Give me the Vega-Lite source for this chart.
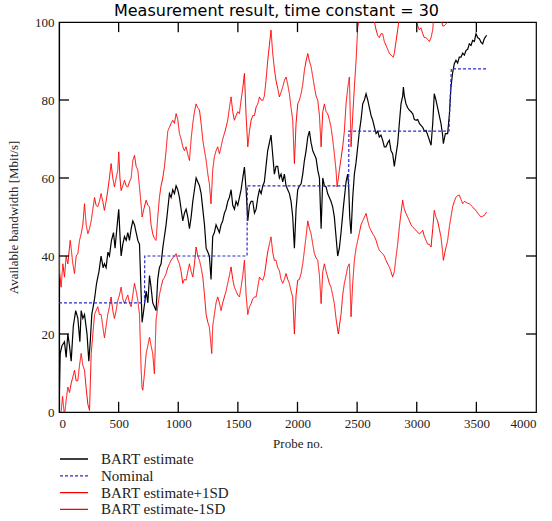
{
  "$schema": "https://vega.github.io/schema/vega-lite/v6.json",
  "width": 477,
  "height": 390,
  "autosize": {"type": "none"},
  "padding": {"left": 59, "top": 22, "right": 16, "bottom": 109},
  "background": "white",
  "title": {"text": "Measurement result, time constant = 30", "font": "DejaVu Sans", "fontSize": 16, "fontWeight": "normal", "anchor": "middle", "dx": -21, "offset": -3, "color": "#000"},
  "config": {
    "view": {"stroke": "#000", "strokeWidth": 1.2},
    "axis": {"grid": false, "ticks": false, "domainColor": "#000", "domainWidth": 1.2, "labelFont": "Liberation Serif", "labelFontSize": 13, "labelColor": "#222", "titleFont": "Liberation Serif", "titleFontSize": 13, "titleFontWeight": "normal", "titleColor": "#222"},
    "legend": {"orient": "none", "legendX": 7, "legendY": 429, "direction": "vertical", "symbolType": "M-2,0H2", "symbolSize": 196, "symbolStrokeWidth": 1.3, "symbolFillColor": "transparent", "labelFont": "Liberation Serif", "labelFontSize": 15, "labelColor": "#222", "labelOffset": 19, "rowPadding": 0.8, "title": null}
  },
  "datasets": {
    "xticks": [{"probe":500},{"probe":1000},{"probe":1500},{"probe":2000},{"probe":2500},{"probe":3000},{"probe":3500}],
    "yticks": [{"bw":20},{"bw":40},{"bw":60},{"bw":80}],
    "upper": [
      {"probe":0,"bw":80},{"probe":4,"bw":36},{"probe":18,"bw":32},{"probe":32,"bw":38},{"probe":46,"bw":34.6},{"probe":60,"bw":40},{"probe":74,"bw":38},{"probe":94,"bw":44},{"probe":102,"bw":42},{"probe":116,"bw":38},{"probe":130,"bw":35.5},{"probe":144,"bw":40},{"probe":158,"bw":40.6},{"probe":172,"bw":44},{"probe":186,"bw":45.7},{"probe":200,"bw":48},{"probe":214,"bw":53.4},{"probe":228,"bw":48},{"probe":242,"bw":45.7},{"probe":256,"bw":47},{"probe":270,"bw":49},{"probe":284,"bw":52},{"probe":298,"bw":55},{"probe":311,"bw":53},{"probe":325,"bw":52.6},{"probe":339,"bw":54},{"probe":353,"bw":56},{"probe":367,"bw":54},{"probe":381,"bw":51.7},{"probe":395,"bw":54},{"probe":409,"bw":56.8},{"probe":423,"bw":60},{"probe":437,"bw":63.7},{"probe":451,"bw":60},{"probe":465,"bw":57.7},{"probe":479,"bw":60},{"probe":493,"bw":62},{"probe":501,"bw":66.7},{"probe":511,"bw":60},{"probe":521,"bw":56.8},{"probe":535,"bw":58},{"probe":549,"bw":59.4},{"probe":563,"bw":58},{"probe":577,"bw":57.7},{"probe":591,"bw":59},{"probe":605,"bw":60},{"probe":619,"bw":64.5},{"probe":633,"bw":65.8},{"probe":647,"bw":63},{"probe":661,"bw":62},{"probe":675,"bw":57.7},{"probe":689,"bw":53},{"probe":697,"bw":50},{"probe":711,"bw":52},{"probe":731,"bw":54.3},{"probe":745,"bw":53},{"probe":759,"bw":52.6},{"probe":772,"bw":48},{"probe":786,"bw":45.7},{"probe":800,"bw":44.5},{"probe":814,"bw":44},{"probe":828,"bw":50},{"probe":842,"bw":55},{"probe":856,"bw":58},{"probe":870,"bw":60},{"probe":884,"bw":62.8},{"probe":898,"bw":67},{"probe":912,"bw":72},{"probe":926,"bw":73},{"probe":940,"bw":74},{"probe":954,"bw":74.8},{"probe":968,"bw":74},{"probe":982,"bw":76.5},{"probe":996,"bw":75},{"probe":1010,"bw":71.4},{"probe":1024,"bw":70},{"probe":1038,"bw":68},{"probe":1052,"bw":67},{"probe":1066,"bw":68},{"probe":1080,"bw":66},{"probe":1094,"bw":64.5},{"probe":1108,"bw":70},{"probe":1122,"bw":74},{"probe":1136,"bw":77},{"probe":1150,"bw":79},{"probe":1164,"bw":78},{"probe":1178,"bw":77.4},{"probe":1192,"bw":74},{"probe":1206,"bw":69.7},{"probe":1220,"bw":67},{"probe":1234,"bw":64.5},{"probe":1248,"bw":61},{"probe":1261,"bw":58.5},{"probe":1275,"bw":53.4},{"probe":1289,"bw":62},{"probe":1303,"bw":65.4},{"probe":1317,"bw":67},{"probe":1331,"bw":68},{"probe":1345,"bw":66.2},{"probe":1359,"bw":68},{"probe":1373,"bw":70},{"probe":1387,"bw":71.4},{"probe":1401,"bw":73},{"probe":1415,"bw":74.8},{"probe":1429,"bw":78},{"probe":1443,"bw":80.8},{"probe":1457,"bw":77},{"probe":1471,"bw":74.8},{"probe":1485,"bw":76},{"probe":1499,"bw":77},{"probe":1513,"bw":76.5},{"probe":1527,"bw":80},{"probe":1541,"bw":83},{"probe":1555,"bw":86.8},{"probe":1569,"bw":76},{"probe":1583,"bw":68},{"probe":1597,"bw":72},{"probe":1611,"bw":74.8},{"probe":1625,"bw":76},{"probe":1639,"bw":76},{"probe":1653,"bw":78.2},{"probe":1667,"bw":79},{"probe":1681,"bw":80.8},{"probe":1695,"bw":80},{"probe":1709,"bw":79.9},{"probe":1722,"bw":81},{"probe":1736,"bw":85},{"probe":1750,"bw":90},{"probe":1764,"bw":94},{"probe":1778,"bw":97.9},{"probe":1792,"bw":92},{"probe":1806,"bw":88},{"probe":1820,"bw":85},{"probe":1834,"bw":83},{"probe":1848,"bw":80.8},{"probe":1862,"bw":82},{"probe":1876,"bw":83.3},{"probe":1890,"bw":85},{"probe":1904,"bw":85.9},{"probe":1918,"bw":84},{"probe":1932,"bw":81.6},{"probe":1946,"bw":78},{"probe":1960,"bw":74.8},{"probe":1974,"bw":63.7},{"probe":1988,"bw":74},{"probe":2002,"bw":79},{"probe":2016,"bw":80},{"probe":2030,"bw":81.6},{"probe":2044,"bw":84},{"probe":2058,"bw":87.6},{"probe":2072,"bw":90},{"probe":2086,"bw":91.9},{"probe":2100,"bw":90},{"probe":2114,"bw":88.5},{"probe":2128,"bw":86},{"probe":2142,"bw":83.3},{"probe":2156,"bw":81},{"probe":2170,"bw":79.9},{"probe":2184,"bw":76},{"probe":2198,"bw":68},{"probe":2212,"bw":77},{"probe":2226,"bw":79},{"probe":2240,"bw":77},{"probe":2253,"bw":76.5},{"probe":2267,"bw":75},{"probe":2281,"bw":73},{"probe":2295,"bw":70},{"probe":2309,"bw":66.2},{"probe":2323,"bw":62},{"probe":2332,"bw":57.7},{"probe":2343,"bw":60},{"probe":2351,"bw":62},{"probe":2365,"bw":65},{"probe":2379,"bw":68},{"probe":2393,"bw":72},{"probe":2407,"bw":79},{"probe":2421,"bw":83},{"probe":2435,"bw":85.9},{"probe":2449,"bw":68},{"probe":2463,"bw":76},{"probe":2477,"bw":83.3},{"probe":2491,"bw":90},{"probe":2505,"bw":98.7},{"probe":2524,"bw":101},{"probe":2547,"bw":103},{"probe":2575,"bw":105},{"probe":2603,"bw":104},{"probe":2631,"bw":102},{"probe":2659,"bw":98},{"probe":2673,"bw":96.5},{"probe":2686,"bw":96},{"probe":2700,"bw":97},{"probe":2714,"bw":97},{"probe":2728,"bw":95},{"probe":2742,"bw":94},{"probe":2756,"bw":93},{"probe":2770,"bw":92},{"probe":2784,"bw":91.5},{"probe":2804,"bw":91},{"probe":2812,"bw":92},{"probe":2826,"bw":95},{"probe":2840,"bw":98},{"probe":2854,"bw":101},{"probe":2882,"bw":104},{"probe":2910,"bw":104},{"probe":2938,"bw":103},{"probe":2966,"bw":102},{"probe":2994,"bw":100.5},{"probe":3008,"bw":99},{"probe":3022,"bw":98},{"probe":3036,"bw":98.5},{"probe":3050,"bw":97},{"probe":3064,"bw":96},{"probe":3078,"bw":96},{"probe":3092,"bw":95.5},{"probe":3106,"bw":95},{"probe":3120,"bw":96},{"probe":3134,"bw":98},{"probe":3147,"bw":103},{"probe":3175,"bw":104},{"probe":3203,"bw":101},{"probe":3217,"bw":99},{"probe":3230,"bw":99},{"probe":3245,"bw":99.5},{"probe":3259,"bw":100},{"probe":3273,"bw":104},{"probe":3287,"bw":112},{"probe":3301,"bw":118},{"probe":3329,"bw":124},{"probe":3357,"bw":127},{"probe":3385,"bw":130},{"probe":3413,"bw":132},{"probe":3441,"bw":135},{"probe":3469,"bw":138},{"probe":3497,"bw":140},{"probe":3525,"bw":140},{"probe":3553,"bw":139},{"probe":3586,"bw":141}
    ],
    "lower": [
      {"probe":0,"bw":-8},{"probe":8,"bw":-2},{"probe":18,"bw":0},{"probe":30,"bw":4},{"probe":46,"bw":-1},{"probe":60,"bw":3},{"probe":74,"bw":6.4},{"probe":88,"bw":5},{"probe":102,"bw":7.3},{"probe":116,"bw":9},{"probe":130,"bw":10.7},{"probe":144,"bw":8},{"probe":158,"bw":8},{"probe":172,"bw":12},{"probe":186,"bw":15},{"probe":200,"bw":12},{"probe":214,"bw":10.7},{"probe":228,"bw":6},{"probe":242,"bw":2},{"probe":256,"bw":0.4},{"probe":270,"bw":15},{"probe":284,"bw":20},{"probe":298,"bw":25},{"probe":311,"bw":26},{"probe":325,"bw":27},{"probe":339,"bw":25},{"probe":353,"bw":25},{"probe":367,"bw":22},{"probe":381,"bw":19},{"probe":395,"bw":22},{"probe":409,"bw":25},{"probe":423,"bw":27},{"probe":437,"bw":29.5},{"probe":451,"bw":26},{"probe":465,"bw":24},{"probe":479,"bw":26},{"probe":493,"bw":28.6},{"probe":507,"bw":30},{"probe":521,"bw":32},{"probe":535,"bw":29},{"probe":549,"bw":27.8},{"probe":563,"bw":29},{"probe":577,"bw":30},{"probe":591,"bw":28},{"probe":605,"bw":27},{"probe":619,"bw":30},{"probe":633,"bw":33},{"probe":647,"bw":31},{"probe":661,"bw":28.6},{"probe":675,"bw":25},{"probe":689,"bw":10.7},{"probe":697,"bw":6},{"probe":703,"bw":5.6},{"probe":717,"bw":10},{"probe":731,"bw":15},{"probe":745,"bw":17},{"probe":759,"bw":19.2},{"probe":772,"bw":17},{"probe":786,"bw":15},{"probe":800,"bw":9.8},{"probe":814,"bw":23.5},{"probe":828,"bw":27},{"probe":842,"bw":30},{"probe":856,"bw":32},{"probe":870,"bw":33.8},{"probe":884,"bw":34.5},{"probe":898,"bw":35.5},{"probe":912,"bw":37},{"probe":926,"bw":38},{"probe":940,"bw":38.9},{"probe":954,"bw":39.5},{"probe":968,"bw":40},{"probe":982,"bw":40.6},{"probe":996,"bw":39},{"probe":1010,"bw":38},{"probe":1024,"bw":36},{"probe":1038,"bw":33},{"probe":1052,"bw":34},{"probe":1066,"bw":33.8},{"probe":1080,"bw":36},{"probe":1094,"bw":38},{"probe":1108,"bw":36},{"probe":1122,"bw":34.6},{"probe":1136,"bw":38},{"probe":1150,"bw":42.3},{"probe":1164,"bw":40},{"probe":1178,"bw":38.9},{"probe":1192,"bw":37},{"probe":1206,"bw":34.6},{"probe":1220,"bw":30},{"probe":1234,"bw":25},{"probe":1248,"bw":23},{"probe":1261,"bw":21.8},{"probe":1275,"bw":17},{"probe":1281,"bw":15},{"probe":1289,"bw":22},{"probe":1303,"bw":25},{"probe":1317,"bw":28},{"probe":1331,"bw":29.5},{"probe":1345,"bw":28},{"probe":1359,"bw":26},{"probe":1373,"bw":28},{"probe":1387,"bw":29.5},{"probe":1401,"bw":31},{"probe":1415,"bw":33},{"probe":1429,"bw":35},{"probe":1443,"bw":37.2},{"probe":1457,"bw":34},{"probe":1471,"bw":32},{"probe":1485,"bw":31},{"probe":1499,"bw":30},{"probe":1513,"bw":29.5},{"probe":1527,"bw":32},{"probe":1541,"bw":35},{"probe":1555,"bw":38.9},{"probe":1569,"bw":30},{"probe":1583,"bw":25},{"probe":1597,"bw":27},{"probe":1611,"bw":27.8},{"probe":1625,"bw":29},{"probe":1639,"bw":29.5},{"probe":1653,"bw":29.5},{"probe":1667,"bw":32},{"probe":1681,"bw":34.6},{"probe":1695,"bw":34},{"probe":1709,"bw":33.8},{"probe":1722,"bw":35},{"probe":1736,"bw":38},{"probe":1750,"bw":41},{"probe":1764,"bw":43},{"probe":1778,"bw":44.9},{"probe":1792,"bw":41},{"probe":1806,"bw":38.9},{"probe":1820,"bw":38.9},{"probe":1834,"bw":37},{"probe":1848,"bw":36.3},{"probe":1862,"bw":34},{"probe":1876,"bw":33},{"probe":1890,"bw":34},{"probe":1904,"bw":35.5},{"probe":1918,"bw":34},{"probe":1932,"bw":33},{"probe":1946,"bw":31},{"probe":1960,"bw":29.5},{"probe":1974,"bw":20},{"probe":1988,"bw":30},{"probe":2002,"bw":33.8},{"probe":2016,"bw":34},{"probe":2030,"bw":35.5},{"probe":2044,"bw":38},{"probe":2058,"bw":41.5},{"probe":2072,"bw":45},{"probe":2086,"bw":49},{"probe":2100,"bw":47},{"probe":2114,"bw":45.7},{"probe":2128,"bw":43},{"probe":2142,"bw":40.6},{"probe":2156,"bw":39.5},{"probe":2170,"bw":38.9},{"probe":2184,"bw":35},{"probe":2198,"bw":27.8},{"probe":2212,"bw":36},{"probe":2226,"bw":38},{"probe":2240,"bw":36},{"probe":2253,"bw":34.6},{"probe":2267,"bw":33},{"probe":2281,"bw":32},{"probe":2295,"bw":30},{"probe":2309,"bw":27.8},{"probe":2323,"bw":24},{"probe":2337,"bw":21},{"probe":2343,"bw":20},{"probe":2351,"bw":22},{"probe":2365,"bw":25},{"probe":2379,"bw":30},{"probe":2393,"bw":33},{"probe":2407,"bw":35},{"probe":2421,"bw":37.2},{"probe":2435,"bw":38},{"probe":2449,"bw":24.4},{"probe":2463,"bw":33},{"probe":2477,"bw":38.9},{"probe":2491,"bw":42},{"probe":2505,"bw":44},{"probe":2519,"bw":46},{"probe":2533,"bw":48},{"probe":2547,"bw":49},{"probe":2561,"bw":50},{"probe":2575,"bw":50.9},{"probe":2589,"bw":49},{"probe":2603,"bw":47.4},{"probe":2617,"bw":46.5},{"probe":2631,"bw":45.7},{"probe":2645,"bw":45},{"probe":2659,"bw":44},{"probe":2673,"bw":42.5},{"probe":2686,"bw":41.5},{"probe":2700,"bw":41},{"probe":2714,"bw":40.6},{"probe":2728,"bw":40},{"probe":2742,"bw":38.9},{"probe":2756,"bw":38},{"probe":2770,"bw":37.2},{"probe":2784,"bw":36},{"probe":2798,"bw":34.6},{"probe":2812,"bw":36},{"probe":2826,"bw":39.7},{"probe":2840,"bw":43},{"probe":2854,"bw":47.4},{"probe":2868,"bw":51},{"probe":2882,"bw":54.3},{"probe":2896,"bw":52},{"probe":2910,"bw":50.9},{"probe":2924,"bw":50},{"probe":2938,"bw":49},{"probe":2952,"bw":48},{"probe":2966,"bw":47.4},{"probe":2980,"bw":47},{"probe":2994,"bw":46.6},{"probe":3008,"bw":46},{"probe":3022,"bw":45.7},{"probe":3036,"bw":46},{"probe":3050,"bw":46.6},{"probe":3064,"bw":45},{"probe":3078,"bw":44},{"probe":3092,"bw":43},{"probe":3106,"bw":43},{"probe":3120,"bw":42.3},{"probe":3134,"bw":47},{"probe":3147,"bw":51.7},{"probe":3161,"bw":50},{"probe":3175,"bw":49},{"probe":3189,"bw":47},{"probe":3203,"bw":44.9},{"probe":3217,"bw":41},{"probe":3223,"bw":38.9},{"probe":3240,"bw":41.5},{"probe":3259,"bw":44},{"probe":3273,"bw":47.4},{"probe":3287,"bw":50},{"probe":3301,"bw":52.6},{"probe":3315,"bw":54},{"probe":3329,"bw":55.1},{"probe":3343,"bw":55.5},{"probe":3357,"bw":55.6},{"probe":3371,"bw":54.5},{"probe":3385,"bw":53.4},{"probe":3399,"bw":54},{"probe":3413,"bw":53.8},{"probe":3427,"bw":53.5},{"probe":3441,"bw":53.4},{"probe":3455,"bw":53},{"probe":3469,"bw":52.6},{"probe":3483,"bw":52},{"probe":3497,"bw":51.7},{"probe":3511,"bw":51},{"probe":3525,"bw":50.5},{"probe":3539,"bw":50},{"probe":3553,"bw":50.2},{"probe":3566,"bw":50.4},{"probe":3586,"bw":51.3}
    ],
    "estimate": [
      {"probe":0,"bw":0},{"probe":10,"bw":15},{"probe":25,"bw":17},{"probe":46,"bw":18},{"probe":60,"bw":14},{"probe":74,"bw":20},{"probe":88,"bw":17},{"probe":102,"bw":13},{"probe":120,"bw":22},{"probe":140,"bw":26},{"probe":158,"bw":24},{"probe":175,"bw":18},{"probe":186,"bw":26},{"probe":200,"bw":24},{"probe":214,"bw":25},{"probe":235,"bw":20},{"probe":250,"bw":13},{"probe":262,"bw":18},{"probe":275,"bw":25},{"probe":298,"bw":29},{"probe":315,"bw":33},{"probe":335,"bw":36},{"probe":353,"bw":40},{"probe":370,"bw":37},{"probe":381,"bw":38},{"probe":395,"bw":37},{"probe":410,"bw":41},{"probe":423,"bw":40},{"probe":440,"bw":44},{"probe":457,"bw":46},{"probe":470,"bw":42},{"probe":485,"bw":47},{"probe":501,"bw":52},{"probe":512,"bw":45},{"probe":521,"bw":40},{"probe":535,"bw":43},{"probe":549,"bw":45},{"probe":563,"bw":44},{"probe":577,"bw":46},{"probe":591,"bw":44},{"probe":605,"bw":47},{"probe":619,"bw":49},{"probe":633,"bw":48},{"probe":647,"bw":46},{"probe":661,"bw":44},{"probe":675,"bw":43},{"probe":689,"bw":30},{"probe":697,"bw":23},{"probe":710,"bw":26},{"probe":731,"bw":31},{"probe":745,"bw":28},{"probe":759,"bw":35},{"probe":772,"bw":32},{"probe":786,"bw":28},{"probe":800,"bw":27},{"probe":814,"bw":26},{"probe":828,"bw":34},{"probe":842,"bw":37},{"probe":856,"bw":38},{"probe":870,"bw":42},{"probe":884,"bw":45},{"probe":898,"bw":48},{"probe":912,"bw":52},{"probe":926,"bw":56},{"probe":940,"bw":55},{"probe":954,"bw":57},{"probe":968,"bw":56},{"probe":982,"bw":58},{"probe":996,"bw":57},{"probe":1010,"bw":55},{"probe":1024,"bw":52},{"probe":1038,"bw":49},{"probe":1052,"bw":51},{"probe":1066,"bw":52},{"probe":1080,"bw":50},{"probe":1094,"bw":47},{"probe":1108,"bw":50},{"probe":1122,"bw":54},{"probe":1136,"bw":57},{"probe":1150,"bw":60},{"probe":1164,"bw":59},{"probe":1178,"bw":58},{"probe":1192,"bw":56},{"probe":1206,"bw":52},{"probe":1220,"bw":48},{"probe":1234,"bw":42},{"probe":1248,"bw":41},{"probe":1261,"bw":40},{"probe":1275,"bw":34},{"probe":1289,"bw":45},{"probe":1303,"bw":46},{"probe":1317,"bw":48},{"probe":1331,"bw":47},{"probe":1345,"bw":46},{"probe":1359,"bw":48},{"probe":1373,"bw":49},{"probe":1387,"bw":51},{"probe":1401,"bw":52},{"probe":1415,"bw":54},{"probe":1429,"bw":55},{"probe":1443,"bw":57},{"probe":1457,"bw":53},{"probe":1471,"bw":52},{"probe":1485,"bw":54},{"probe":1499,"bw":53},{"probe":1513,"bw":55},{"probe":1527,"bw":57},{"probe":1541,"bw":60},{"probe":1555,"bw":62.8},{"probe":1569,"bw":57},{"probe":1583,"bw":49},{"probe":1597,"bw":53},{"probe":1611,"bw":54},{"probe":1625,"bw":54},{"probe":1639,"bw":51},{"probe":1653,"bw":52},{"probe":1667,"bw":55},{"probe":1681,"bw":57},{"probe":1695,"bw":56},{"probe":1709,"bw":58},{"probe":1722,"bw":59},{"probe":1736,"bw":63},{"probe":1750,"bw":67},{"probe":1764,"bw":69},{"probe":1778,"bw":71},{"probe":1792,"bw":66},{"probe":1806,"bw":61},{"probe":1820,"bw":63},{"probe":1834,"bw":63},{"probe":1848,"bw":60},{"probe":1862,"bw":61},{"probe":1876,"bw":59},{"probe":1890,"bw":61},{"probe":1904,"bw":58},{"probe":1918,"bw":57},{"probe":1932,"bw":56},{"probe":1946,"bw":54},{"probe":1960,"bw":50},{"probe":1974,"bw":42},{"probe":1988,"bw":52},{"probe":2002,"bw":57},{"probe":2016,"bw":58},{"probe":2030,"bw":58.5},{"probe":2044,"bw":61},{"probe":2058,"bw":64.5},{"probe":2072,"bw":67},{"probe":2086,"bw":70.5},{"probe":2100,"bw":72},{"probe":2114,"bw":69},{"probe":2128,"bw":67},{"probe":2142,"bw":66},{"probe":2156,"bw":65},{"probe":2170,"bw":62},{"probe":2184,"bw":60},{"probe":2198,"bw":47},{"probe":2212,"bw":60},{"probe":2226,"bw":58},{"probe":2240,"bw":57.7},{"probe":2253,"bw":56},{"probe":2267,"bw":55},{"probe":2281,"bw":54},{"probe":2295,"bw":52.6},{"probe":2309,"bw":50},{"probe":2323,"bw":45},{"probe":2337,"bw":40},{"probe":2351,"bw":42},{"probe":2365,"bw":46},{"probe":2385,"bw":52.6},{"probe":2407,"bw":59},{"probe":2421,"bw":61},{"probe":2429,"bw":58},{"probe":2438,"bw":50},{"probe":2449,"bw":45.7},{"probe":2463,"bw":55},{"probe":2477,"bw":61},{"probe":2491,"bw":64},{"probe":2505,"bw":68},{"probe":2519,"bw":72},{"probe":2533,"bw":75},{"probe":2547,"bw":79},{"probe":2561,"bw":80},{"probe":2575,"bw":81.6},{"probe":2589,"bw":80},{"probe":2603,"bw":78},{"probe":2617,"bw":76},{"probe":2631,"bw":74.8},{"probe":2645,"bw":73},{"probe":2659,"bw":71.4},{"probe":2673,"bw":72},{"probe":2686,"bw":70.5},{"probe":2700,"bw":71},{"probe":2714,"bw":69.7},{"probe":2728,"bw":68},{"probe":2742,"bw":68},{"probe":2756,"bw":69},{"probe":2770,"bw":69.7},{"probe":2784,"bw":67},{"probe":2798,"bw":66.2},{"probe":2812,"bw":63},{"probe":2826,"bw":66},{"probe":2840,"bw":68.8},{"probe":2854,"bw":74},{"probe":2868,"bw":79},{"probe":2882,"bw":81},{"probe":2888,"bw":83.3},{"probe":2896,"bw":81},{"probe":2910,"bw":79},{"probe":2924,"bw":78},{"probe":2938,"bw":77.4},{"probe":2952,"bw":77},{"probe":2966,"bw":76.5},{"probe":2980,"bw":75},{"probe":2994,"bw":74.8},{"probe":3008,"bw":75},{"probe":3022,"bw":74},{"probe":3036,"bw":73.5},{"probe":3050,"bw":73},{"probe":3064,"bw":72},{"probe":3078,"bw":72.2},{"probe":3092,"bw":71},{"probe":3106,"bw":69.7},{"probe":3120,"bw":68.4},{"probe":3134,"bw":74},{"probe":3147,"bw":81.6},{"probe":3161,"bw":80},{"probe":3175,"bw":78},{"probe":3189,"bw":76},{"probe":3203,"bw":74},{"probe":3217,"bw":71},{"probe":3223,"bw":68.8},{"probe":3240,"bw":71.4},{"probe":3259,"bw":71.4},{"probe":3273,"bw":76},{"probe":3287,"bw":83.3},{"probe":3301,"bw":87},{"probe":3315,"bw":89.3},{"probe":3329,"bw":90.2},{"probe":3343,"bw":89.5},{"probe":3357,"bw":91},{"probe":3371,"bw":91},{"probe":3385,"bw":92},{"probe":3399,"bw":91.5},{"probe":3413,"bw":92.7},{"probe":3427,"bw":93},{"probe":3441,"bw":94.4},{"probe":3455,"bw":94},{"probe":3469,"bw":95.3},{"probe":3483,"bw":95},{"probe":3497,"bw":97},{"probe":3511,"bw":96},{"probe":3525,"bw":95.7},{"probe":3539,"bw":94.8},{"probe":3553,"bw":94.4},{"probe":3566,"bw":95.7},{"probe":3586,"bw":96.6}
    ],
    "nominal": [
      {"probe":0,"bw":28},{"probe":717,"bw":28},{"probe":719,"bw":40},{"probe":1577,"bw":40},{"probe":1579,"bw":58},{"probe":2429,"bw":58},{"probe":2431,"bw":72},{"probe":3270,"bw":72},{"probe":3290,"bw":88},{"probe":3586,"bw":88}
    ]
  },
  "layer": [
    {
      "data": {"name": "upper"},
      "mark": {"type": "line", "clip": true, "strokeWidth": 1},
      "encoding": {
        "x": {"field": "probe", "type": "quantitative", "scale": {"domain": [0, 4000], "nice": false}, "axis": {"orient": "bottom", "title": "Probe no.", "format": "d", "values": [0,500,1000,1500,2000,2500,3000,3500,4000], "labelPadding": 5, "titlePadding": 7}},
        "y": {"field": "bw", "type": "quantitative", "scale": {"domain": [0, 100], "nice": false}, "axis": {"orient": "left", "title": "Available bandwidth [Mbit/s]", "format": "d", "values": [0,20,40,60,80,100], "labelPadding": 5, "titlePadding": 14}},
        "color": {"datum": "BART estimate+1SD", "type": "nominal", "scale": {"domain": ["BART estimate", "Nominal", "BART estimate+1SD", "BART estimate-1SD"], "range": ["#000000", "#2b2bc8", "#ff0000", "#ff0000"]}},
        "strokeDash": {"datum": "BART estimate+1SD", "type": "nominal", "scale": {"domain": ["BART estimate", "Nominal", "BART estimate+1SD", "BART estimate-1SD"], "range": [[1, 0], [3, 2], [1, 0], [1, 0]]}}
      }
    },
    {
      "data": {"name": "lower"},
      "mark": {"type": "line", "clip": true, "strokeWidth": 1},
      "encoding": {
        "x": {"field": "probe", "type": "quantitative"},
        "y": {"field": "bw", "type": "quantitative"},
        "color": {"datum": "BART estimate-1SD", "type": "nominal"},
        "strokeDash": {"datum": "BART estimate-1SD", "type": "nominal"}
      }
    },
    {
      "data": {"name": "estimate"},
      "mark": {"type": "line", "clip": true, "strokeWidth": 1.2},
      "encoding": {
        "x": {"field": "probe", "type": "quantitative"},
        "y": {"field": "bw", "type": "quantitative"},
        "color": {"datum": "BART estimate", "type": "nominal"},
        "strokeDash": {"datum": "BART estimate", "type": "nominal"}
      }
    },
    {
      "data": {"name": "nominal"},
      "mark": {"type": "line", "clip": true, "strokeWidth": 1.2},
      "encoding": {
        "x": {"field": "probe", "type": "quantitative"},
        "y": {"field": "bw", "type": "quantitative"},
        "color": {"datum": "Nominal", "type": "nominal"},
        "strokeDash": {"datum": "Nominal", "type": "nominal"}
      }
    },
    {
      "data": {"name": "xticks"},
      "mark": {"type": "rule", "color": "#000", "strokeWidth": 1.3},
      "encoding": {
        "x": {"field": "probe", "type": "quantitative"},
        "y": {"datum": 0, "type": "quantitative"},
        "y2": {"datum": 2.6}
      }
    },
    {
      "data": {"name": "xticks"},
      "mark": {"type": "rule", "color": "#000", "strokeWidth": 1.3},
      "encoding": {
        "x": {"field": "probe", "type": "quantitative"},
        "y": {"datum": 100, "type": "quantitative"},
        "y2": {"datum": 97.4}
      }
    },
    {
      "data": {"name": "yticks"},
      "mark": {"type": "rule", "color": "#000", "strokeWidth": 1.3},
      "encoding": {
        "y": {"field": "bw", "type": "quantitative"},
        "x": {"datum": 0, "type": "quantitative"},
        "x2": {"datum": 84}
      }
    },
    {
      "data": {"name": "yticks"},
      "mark": {"type": "rule", "color": "#000", "strokeWidth": 1.3},
      "encoding": {
        "y": {"field": "bw", "type": "quantitative"},
        "x": {"datum": 4000, "type": "quantitative"},
        "x2": {"datum": 3916}
      }
    }
  ]
}
